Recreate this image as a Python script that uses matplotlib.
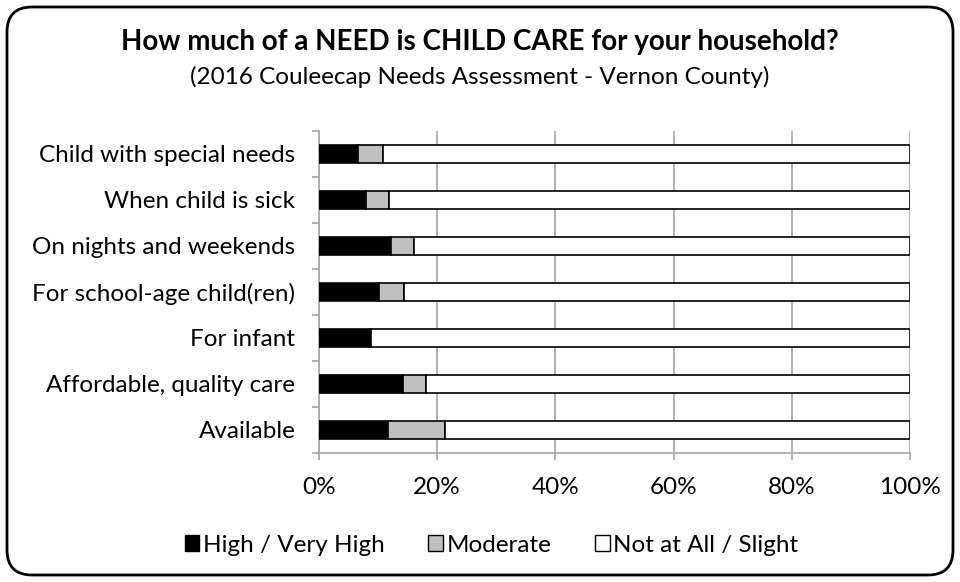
import matplotlib
matplotlib.use("Agg")
import matplotlib.pyplot as plt
from matplotlib.patches import Patch, FancyBboxPatch

plt.rcParams['font.family'] = ['Lato', 'DejaVu Sans']

# Data (top to bottom as shown in chart)
categories = ["Child with special needs", "When child is sick", "On nights and weekends",
              "For school-age child(ren)", "For infant", "Affordable, quality care", "Available"]
high = [6.6, 7.9, 12.2, 10.2, 8.8, 14.2, 11.6]
moderate = [4.2, 4.0, 3.9, 4.1, 0.0, 3.9, 9.7]
series_names = ["High / Very High", "Moderate", "Not at All / Slight"]
series_colors = ["#000000", "#bfbfbf", "#ffffff"]

not_at_all = [100 - h - m for h, m in zip(high, moderate)]

fig = plt.figure(figsize=(9.6, 5.82), dpi=100)
ax = fig.add_axes([319 / 960, 129 / 582, 591 / 960, 322 / 582])

y = list(range(len(categories)))
bar_h = 0.41
left = [0] * len(categories)
for vals, name, col in zip([high, moderate, not_at_all], series_names, series_colors):
    ax.barh(y, vals, left=left, height=bar_h, color=col, edgecolor="#000000",
            linewidth=1.2, label=name, zorder=3)
    left = [a + b for a, b in zip(left, vals)]

fs = 17.5
ax.set_xlim(0, 100)
ax.set_ylim(len(categories) - 0.5, -0.5)
ax.set_xticks(range(0, 101, 20))
ax.set_xticklabels([f"{v}%" for v in range(0, 101, 20)], fontsize=fs)
ax.set_yticks(y)
ax.set_yticklabels(categories, fontsize=fs)
ax.set_yticks([i - 0.5 for i in range(len(categories) + 1)], minor=True)

ax.tick_params(axis="y", which="major", length=0, pad=17)
ax.tick_params(axis="y", which="minor", length=5, color="#a6a6a6", width=1.2)
ax.tick_params(axis="x", length=5, color="#a6a6a6", width=1.2, pad=12)
ax.grid(axis="x", color="#a6a6a6", linewidth=1.2, zorder=0)

for side in ["top", "right"]:
    ax.spines[side].set_visible(False)
for side in ["left", "bottom"]:
    ax.spines[side].set_color("#a6a6a6")
    ax.spines[side].set_linewidth(1.2)

fig.text(0.5, 1 - 42 / 582, "How much of a NEED is CHILD CARE for your household?",
         ha="center", va="center", fontsize=20, fontweight="bold")
fig.text(0.5, 1 - 77 / 582, "(2016 Couleecap Needs Assessment - Vernon County)",
         ha="center", va="center", fontsize=fs)

handles = [Patch(facecolor=c, edgecolor="#000000", linewidth=1, label=n)
           for c, n in zip(series_colors, series_names)]
fig.legend(handles=handles, loc="center", bbox_to_anchor=(0.512, 1 - 545 / 582), ncol=3,
           frameon=False, fontsize=fs, handlelength=0.6, handleheight=0.6,
           handletextpad=0.15, columnspacing=1.8)

border = FancyBboxPatch((0.07, 0.07), 9.46, 5.68, boxstyle="round,pad=0,rounding_size=0.25",
                        transform=fig.dpi_scale_trans, facecolor="none",
                        edgecolor="#000000", linewidth=2)
fig.patches.append(border)

fig.savefig("out.png", dpi=100)
